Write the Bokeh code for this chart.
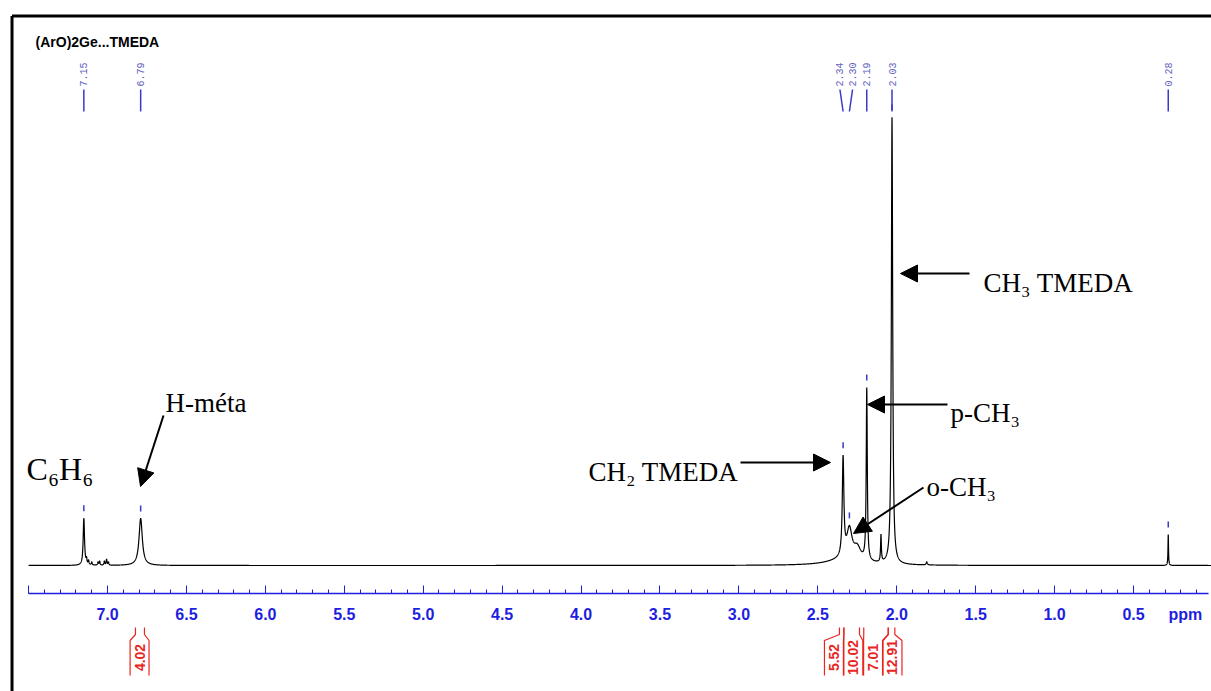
import numpy as np
from bokeh.plotting import figure
from bokeh.models import (Range1d, LinearAxis, SingleIntervalTicker, Arrow,
                          NormalHead, Label, PrintfTickFormatter)
from bokeh.core.properties import value
from bokeh.embed import file_html
from bokeh.resources import INLINE

# ---------------- data ----------------
title_text = "(ArO)2Ge...TMEDA"

# peaks of the 1H spectrum: position (ppm), height (arb. units), FWHM (ppm)
peak_ppm    = [7.150, 7.133, 7.120, 7.100, 7.060, 7.050, 7.020, 7.006, 6.994,
               6.790, 2.340, 2.340, 2.300, 2.250, 2.190, 2.100, 2.030, 1.810, 0.280]
peak_height = [47, 5, 4, 3, 3, 4, 4, 6, 3,
               47, 5, 98, 30, 13, 172, 27, 447, 3, 31]
peak_fwhm   = [0.010, 0.006, 0.006, 0.006, 0.006, 0.006, 0.006, 0.006, 0.006,
               0.025, 0.250, 0.012, 0.040, 0.055, 0.008, 0.006, 0.010, 0.008, 0.004]

# peak-pick labels (top of the spectrum)
pick_labels   = ["7.15", "6.79", "2.34", "2.30", "2.19", "2.03", "0.28"]
pick_ppm      = [7.15, 6.79, 2.34, 2.30, 2.19, 2.03, 0.28]
pick_text_ppm = [7.15, 6.79, 2.36, 2.28, 2.19, 2.03, 0.28]

# integrals (below the axis)
int_labels = ["4.02", "5.52", "10.02", "7.01", "12.91"]
int_start  = [6.823, 2.363, 2.335, 2.209, 2.054]
int_end    = [6.766, 2.335, 2.236, 2.054, 2.012]
int_box    = [6.797, 2.398, 2.275, 2.150, 2.027]

# ---------------- layout constants ----------------
PX = 157.85                     # pixels per ppm
X_LEFT, X_RIGHT = 7.678, 0.006
Y_BOTTOM, Y_TOP = -126, 565

BLUE_AX = "#1e1ee0"
BLUE_PICK = "#3a3ac8"
RED = "#e8261e"
SERIF = "Liberation Serif"
SANS = "Liberation Sans"

p = figure(width=1211, height=691, output_backend="svg", toolbar_location=None,
           x_range=Range1d(X_LEFT, X_RIGHT), y_range=Range1d(Y_BOTTOM, Y_TOP),
           x_axis_type=None, y_axis_type=None, min_border=0,
           min_border_left=0, min_border_right=0, min_border_top=0,
           min_border_bottom=0, outline_line_color=None)
p.background_fill_color = "white"
p.border_fill_color = "white"

# frame lines (left and top)
p.segment(x0=[7.605, 7.605], y0=[549.5, 549.5], x1=[7.605, -1.0], y1=[-300, 549.5],
          line_color="black", line_width=3)

# spectrum
x = np.linspace(7.5, 0.0, 15001)
y = np.zeros_like(x)
for c, h, w in zip(peak_ppm, peak_height, peak_fwhm):
    g = w / 2.0
    y += h / (1.0 + ((x - c) / g) ** 2)
p.line(x, y, line_color="black", line_width=1.2)

# peak-pick ticks above peaks
tops = np.interp(pick_ppm, x[::-1], y[::-1])
p.segment(x0=pick_ppm, y0=tops + 7, x1=pick_ppm, y1=tops + 13,
          line_color=BLUE_PICK, line_width=1.5)
# peak-pick label lines and texts
p.segment(x0=pick_text_ppm, y0=[476] * len(pick_ppm), x1=pick_ppm, y1=[454] * len(pick_ppm),
          line_color=BLUE_PICK, line_width=1.5)
p.text(x=pick_text_ppm, y=[491] * len(pick_ppm), text=pick_labels, angle=np.pi / 2,
       text_align="center", text_baseline="middle", text_font=value("Liberation Mono"),
       text_font_size="10px", text_color="#6262c0")

# x axis
axis = LinearAxis(fixed_location=-28, bounds=(0.025, 7.5),
                  ticker=SingleIntervalTicker(interval=0.5, num_minor_ticks=5),
                  formatter=PrintfTickFormatter(format="%.1f"))
axis.axis_line_color = BLUE_AX
axis.axis_line_width = 1.5
axis.major_tick_line_color = BLUE_AX
axis.minor_tick_line_color = BLUE_AX
axis.major_tick_in = 8
axis.major_tick_out = 0
axis.minor_tick_in = 4
axis.minor_tick_out = 0
axis.major_label_text_color = BLUE_AX
axis.major_label_text_font = SANS
axis.major_label_text_font_style = "bold"
axis.major_label_text_font_size = "16px"
axis.major_label_standoff = 14
axis.major_label_overrides = {7.5: ""}
p.add_layout(axis, "below")
p.add_layout(Label(x=0.278, y=-49, text="ppm", text_color=BLUE_AX, text_font=SANS,
                   text_font_style="bold", text_font_size="16px", text_baseline="middle"))

# integrals
xs, ys = [], []
hw = 0.060
for s, e, b in zip(int_start, int_end, int_box):
    xs.append([s, s, b + hw, b + hw]); ys.append([-62, -69, -75, -110])
    xs.append([e, e, b - hw, b - hw]); ys.append([-62, -69, -75, -110])
p.multi_line(xs, ys, line_color=RED, line_width=1.2)
p.text(x=int_box, y=[-92] * len(int_box), text=int_labels, angle=np.pi / 2,
       text_align="center", text_baseline="middle", text_font=value(SANS),
       text_font_style="bold", text_font_size="14px", text_color=RED)

# title
p.add_layout(Label(x=7.456, y=516, text=title_text, text_font=SANS, text_font_style="bold",
                   text_font_size="14px", text_color="black"))

# assignments
def add_label(xp, yv, txt, size="27px"):
    p.add_layout(Label(x=xp, y=yv, text=txt, text_font=SERIF, text_font_size=size,
                       text_color="black", text_baseline="alphabetic"))

add_label(7.513, 97, "C₆H₆", "32px")
add_label(6.633, 163, "H-méta")
add_label(1.450, 283, "CH₃ TMEDA")
add_label(1.659, 153, "p-CH₃")
add_label(1.812, 79, "o-CH₃")
add_label(3.953, 94, "CH₂ TMEDA")

def arrow(x0, y0, x1, y1):
    p.add_layout(Arrow(end=NormalHead(size=17, fill_color="black", line_color="black"),
                       x_start=x0, y_start=y0, x_end=x1, y_end=y1,
                       line_color="black", line_width=2))

def ppm_of(px):
    return 7.0 - (px - 107) / PX

arrow(ppm_of(163), 565 - 415, ppm_of(140), 565 - 486)
arrow(ppm_of(969), 565 - 273, ppm_of(900), 565 - 273)
arrow(ppm_of(947), 565 - 404, ppm_of(867), 565 - 404)
arrow(ppm_of(740), 565 - 462, ppm_of(830), 565 - 462)
arrow(ppm_of(923), 565 - 487, ppm_of(853), 565 - 533)

open("out.html", "w").write(file_html(p, INLINE))
